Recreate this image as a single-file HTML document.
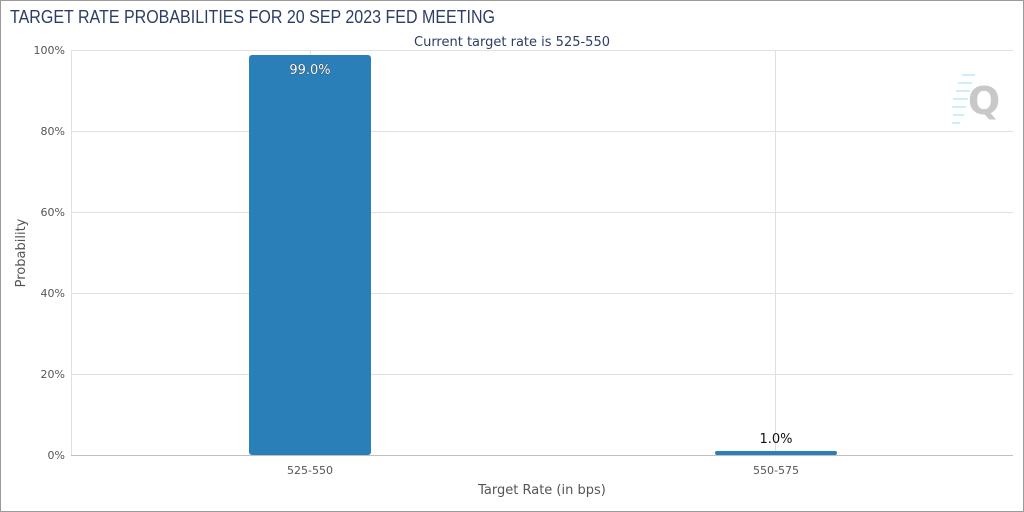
<!DOCTYPE html>
<html><head><style>
html,body{margin:0;padding:0;background:#fff}
svg{display:block}
text{font-family:"DejaVu Sans","Liberation Sans",sans-serif}
</style></head><body>
<svg width="1024" height="512" viewBox="0 0 1024 512">
<rect x="0.5" y="0.5" width="1023" height="511" fill="#fff" stroke="#9a9a9a"/>
<text x="10" y="23" font-size="18" fill="#2c3e66" style="font-family:'Liberation Sans',sans-serif" textLength="485" lengthAdjust="spacingAndGlyphs">TARGET RATE PROBABILITIES FOR 20 SEP 2023 FED MEETING</text>
<text x="512" y="46" font-size="13" fill="#2c3e66" text-anchor="middle">Current target rate is 525-550</text>
<g stroke="#e0e0e0" stroke-width="1">
<line x1="71" y1="50.5" x2="1013" y2="50.5"/>
<line x1="71" y1="131.5" x2="1013" y2="131.5"/>
<line x1="71" y1="212.5" x2="1013" y2="212.5"/>
<line x1="71" y1="293.5" x2="1013" y2="293.5"/>
<line x1="71" y1="374.5" x2="1013" y2="374.5"/>
<line x1="310.5" y1="50" x2="310.5" y2="455"/>
<line x1="775.5" y1="50" x2="775.5" y2="455"/>
<line x1="71.5" y1="50" x2="71.5" y2="455"/>
</g>
<line x1="71" y1="455.5" x2="1013" y2="455.5" stroke="#c0c0c0"/>
<g font-size="11" fill="#555" text-anchor="end">
<text x="65" y="54">100%</text><text x="65" y="135">80%</text><text x="65" y="216">60%</text>
<text x="65" y="297">40%</text><text x="65" y="378">20%</text><text x="65" y="459">0%</text>
</g>
<text transform="translate(25,253) rotate(-90)" font-size="13" fill="#555" text-anchor="middle">Probability</text>
<g font-size="11" fill="#555" text-anchor="middle">
<text x="310" y="474">525-550</text><text x="776" y="474">550-575</text>
</g>
<text x="542" y="494" font-size="13" fill="#555" text-anchor="middle">Target Rate (in bps)</text>
<rect x="249" y="55" width="122" height="400" rx="3" fill="#2a7fb8"/>
<rect x="715" y="451" width="122" height="4" rx="2" fill="#2a7fb8"/>
<text x="310" y="74" font-size="13" fill="#fff" stroke="#333" stroke-width="0.6" paint-order="stroke" text-anchor="middle">99.0%</text>
<text x="776" y="443" font-size="13" fill="#111" text-anchor="middle">1.0%</text>
<g stroke="#bfe6f7" stroke-width="1.5">
<line x1="962" y1="75" x2="975" y2="75"/><line x1="958" y1="83" x2="972" y2="83"/>
<line x1="956" y1="91" x2="970" y2="91"/><line x1="953" y1="99" x2="968" y2="99"/>
<line x1="952" y1="107" x2="966" y2="107"/><line x1="953" y1="115" x2="964" y2="115"/>
<line x1="952" y1="123" x2="960" y2="123"/>
</g>
<text x="984" y="114" font-size="38" font-weight="bold" fill="#c8c8c8" text-anchor="middle">Q</text>
</svg>
</body></html>
